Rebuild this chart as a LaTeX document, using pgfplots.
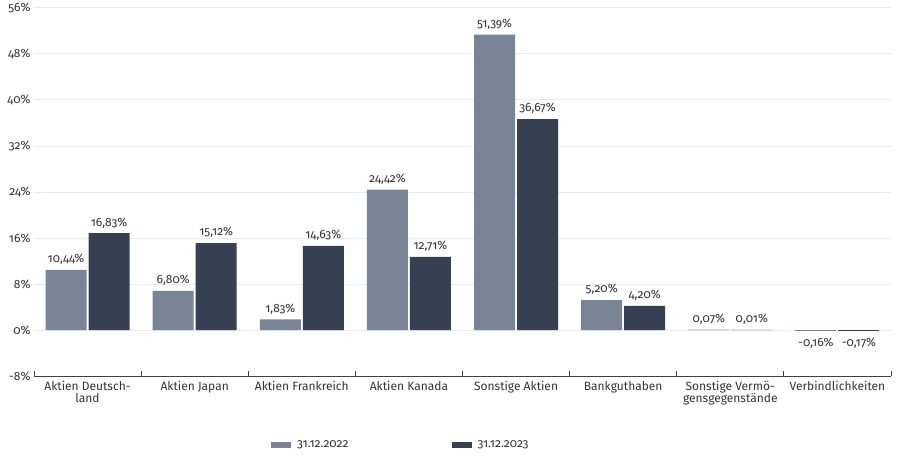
\documentclass[border=0pt]{standalone}
\usepackage{fontspec}
\setmainfont{Fira Sans}[RawFeature=+onum]
\usepackage{pgfplots}
\pgfplotsset{compat=1.18}
\definecolor{cA}{HTML}{788596}
\definecolor{cB}{HTML}{354052}
\definecolor{gridc}{HTML}{E8EBEF}
\definecolor{txt}{HTML}{333333}
\begin{document}
\begin{tikzpicture}
\begin{axis}[
 scale only axis, width=857pt, height=368pt,
 font=\fontsize{12}{13}\selectfont,
 xmin=-0.5, xmax=7.5, ymin=-8, ymax=56,
 ytick={-8,0,8,16,24,32,40,48,56},
 yticklabels={-8\%,0\%,8\%,16\%,24\%,32\%,40\%,48\%,56\%},
 ymajorgrids, grid style={gridc, line width=1pt},
 axis lines*=left, y axis line style={draw=none},
 x axis line style={draw=black!75, line width=1pt},
 major tick length=0pt, minor tick length=5pt,
 tick style={draw=black!75, line width=0.9pt},
 xtick={0,...,7},
 xticklabels={{Aktien Deutsch-\\land},{Aktien Japan},{Aktien Frankreich},{Aktien Kanada},{Sonstige Aktien},{Bankguthaben},{Sonstige Vermö-\\gensgegenstände},{Verbindlichkeiten}},
 xticklabel style={align=center, text=txt, yshift=-2pt, font=\fontsize{12}{12}\selectfont},
 yticklabel style={text=txt},
 minor xtick={-0.5,0.5,...,7.5},
 legend columns=2,
 legend style={at={(0.273,-0.1875)}, anchor=west, draw=none, fill=none, text=txt,
   /tikz/every even column/.append style={column sep=97pt},
   nodes={inner xsep=6pt}},
]
\addplot[ybar, bar width=41pt, bar shift=-21.5pt, fill=cA, draw=none,
  point meta=explicit symbolic, nodes near coords,
  nodes near coords style={xshift=-21.5pt, text=txt, font=\fontsize{12}{12}\selectfont, inner sep=5pt, anchor=south},
  legend image code/.code={\fill[cA] (0pt,-3pt) rectangle (20pt,3pt);}]
 coordinates {(0,10.44) [10,44\%] (1,6.80) [6,80\%] (2,1.83) [1,83\%] (3,24.42) [24,42\%]
   (4,51.39) [51,39\%] (5,5.20) [5,20\%] (6,0.07) [0,07\%]};
\addlegendentry{31.12.2022}
\addplot[ybar, bar width=41pt, bar shift=21.5pt, fill=cB, draw=none,
  point meta=explicit symbolic, nodes near coords,
  nodes near coords style={xshift=21.5pt, text=txt, font=\fontsize{12}{12}\selectfont, inner sep=5pt, anchor=south},
  legend image code/.code={\fill[cB] (0pt,-3pt) rectangle (20pt,3pt);}]
 coordinates {(0,16.83) [16,83\%] (1,15.12) [15,12\%] (2,14.63) [14,63\%] (3,12.71) [12,71\%]
   (4,36.67) [36,67\%] (5,4.20) [4,20\%] (6,0.01) [0,01\%]};
\addlegendentry{31.12.2023}
\addplot[ybar, bar width=41pt, bar shift=-21.5pt, fill=cA, draw=none, forget plot,
  point meta=explicit symbolic, nodes near coords,
  nodes near coords style={xshift=-21.5pt, text=txt, font=\fontsize{12}{12}\selectfont, inner sep=7pt, anchor=north}]
 coordinates {(7,-0.16) [-0,16\%]};
\addplot[ybar, bar width=41pt, bar shift=21.5pt, fill=cB, draw=none, forget plot,
  point meta=explicit symbolic, nodes near coords,
  nodes near coords style={xshift=21.5pt, text=txt, font=\fontsize{12}{12}\selectfont, inner sep=7pt, anchor=north}]
 coordinates {(7,-0.17) [-0,17\%]};
\coordinate (sw) at (rel axis cs:0,0);
\coordinate (ne) at (rel axis cs:1,1);
\end{axis}
\pgfresetboundingbox
\path[use as bounding box] ([shift={(-34pt,-82pt)}]sw) rectangle ([shift={(8pt,8pt)}]ne);
\end{tikzpicture}
\end{document}
